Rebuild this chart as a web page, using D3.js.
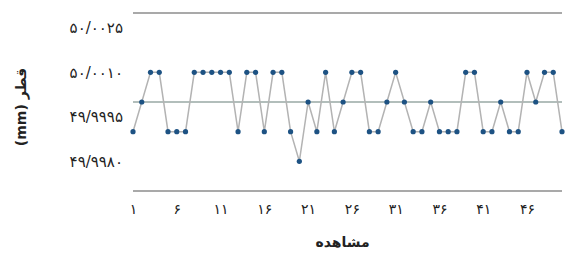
<!DOCTYPE html>
<html>
<head>
<meta charset="utf-8">
<script src="https://cdn.jsdelivr.net/npm/d3@7"></script>
<style>
  body { margin: 0; background: #fff; }
  svg { display: block; }
  text { font-family: "DejaVu Sans", sans-serif; fill: #222; }
</style>
</head>
<body>
<svg width="567" height="257"></svg>
<script>
// observation numbers 1..50 and measured diameters (mm)
const observations = d3.range(1, 51);
const diameters = [
  49.9990, 50.0000, 50.0010, 50.0010, 49.9990, 49.9990, 49.9990, 50.0010, 50.0010, 50.0010,
  50.0010, 50.0010, 49.9990, 50.0010, 50.0010, 49.9990, 50.0010, 50.0010, 49.9990, 49.9980,
  50.0000, 49.9990, 50.0010, 49.9990, 50.0000, 50.0010, 50.0010, 49.9990, 49.9990, 50.0000,
  50.0010, 50.0000, 49.9990, 49.9990, 50.0000, 49.9990, 49.9990, 49.9990, 50.0010, 50.0010,
  49.9990, 49.9990, 50.0000, 49.9990, 49.9990, 50.0010, 50.0000, 50.0010, 50.0010, 49.9990
];
const centerValue = 50.0000;

const yTicks = [49.9980, 49.9995, 50.0010, 50.0025];
const yTickLabels = ['۴۹/۹۹۸۰', '۴۹/۹۹۹۵', '۵۰/۰۰۱۰', '۵۰/۰۰۲۵'];
const xTicks = [1, 6, 11, 16, 21, 26, 31, 36, 41, 46];
const xTickLabels = ['۱', '۶', '۱۱', '۱۶', '۲۱', '۲۶', '۳۱', '۳۶', '۴۱', '۴۶'];

const xTitle = 'مشاهده';
const yTitle = 'قطر (mm)';

const svg = d3.select('svg');

const plotLeft = 133, plotRight = 562, plotTop = 13, plotBottom = 191;

const x = d3.scaleLinear().domain([1, 50]).range([plotLeft, plotRight]);
const y = d3.scaleLinear().domain([49.997, 50.003]).range([plotBottom, plotTop]);

// frame lines top and bottom
svg.selectAll('line.frame')
  .data([plotTop, plotBottom])
  .enter().append('line')
  .attr('class', 'frame')
  .attr('x1', plotLeft).attr('x2', plotRight)
  .attr('y1', d => d).attr('y2', d => d)
  .attr('stroke', '#a9a9a9')
  .attr('stroke-width', 2);

// center line
svg.append('line')
  .attr('x1', plotLeft).attr('x2', plotRight)
  .attr('y1', y(centerValue)).attr('y2', y(centerValue))
  .attr('stroke', '#98a9a4')
  .attr('stroke-width', 1.5);

// y axis labels
const yAxis = d3.axisLeft(y)
  .tickValues(yTicks)
  .tickSize(0)
  .tickPadding(10)
  .tickFormat((d, i) => yTickLabels[i]);

svg.append('g')
  .attr('transform', `translate(${plotLeft},0)`)
  .call(yAxis)
  .call(g => g.select('.domain').remove())
  .selectAll('text')
  .attr('font-size', 15)
  .attr('font-family', '"DejaVu Sans", sans-serif')
  .attr('fill', '#222');

// x axis labels
const xAxis = d3.axisBottom(x)
  .tickValues(xTicks)
  .tickSize(0)
  .tickPadding(13)
  .tickFormat((d, i) => xTickLabels[i]);

svg.append('g')
  .attr('transform', `translate(0,${plotBottom})`)
  .call(xAxis)
  .call(g => g.select('.domain').remove())
  .selectAll('text')
  .attr('font-size', 14)
  .attr('font-family', '"DejaVu Sans", sans-serif')
  .attr('fill', '#222');

// data line
const line = d3.line()
  .x((d, i) => x(observations[i]))
  .y(d => y(d));

svg.append('path')
  .datum(diameters)
  .attr('d', line)
  .attr('fill', 'none')
  .attr('stroke', '#b3b3b3')
  .attr('stroke-width', 1.5);

svg.selectAll('circle.pt')
  .data(diameters)
  .enter().append('circle')
  .attr('class', 'pt')
  .attr('cx', (d, i) => x(observations[i]))
  .attr('cy', d => y(d))
  .attr('r', 2.6)
  .attr('fill', '#1d5283');

// titles
svg.append('text')
  .attr('x', (plotLeft + plotRight) / 2 - 5)
  .attr('y', 247)
  .attr('text-anchor', 'middle')
  .attr('font-size', 14)
  .attr('font-weight', 'bold')
  .text(xTitle);

svg.append('text')
  .attr('transform', 'translate(26,107) rotate(-90)')
  .attr('direction', 'rtl')
  .attr('text-anchor', 'middle')
  .attr('font-size', 14)
  .attr('font-weight', 'bold')
  .text(yTitle);
</script>
</body>
</html>
